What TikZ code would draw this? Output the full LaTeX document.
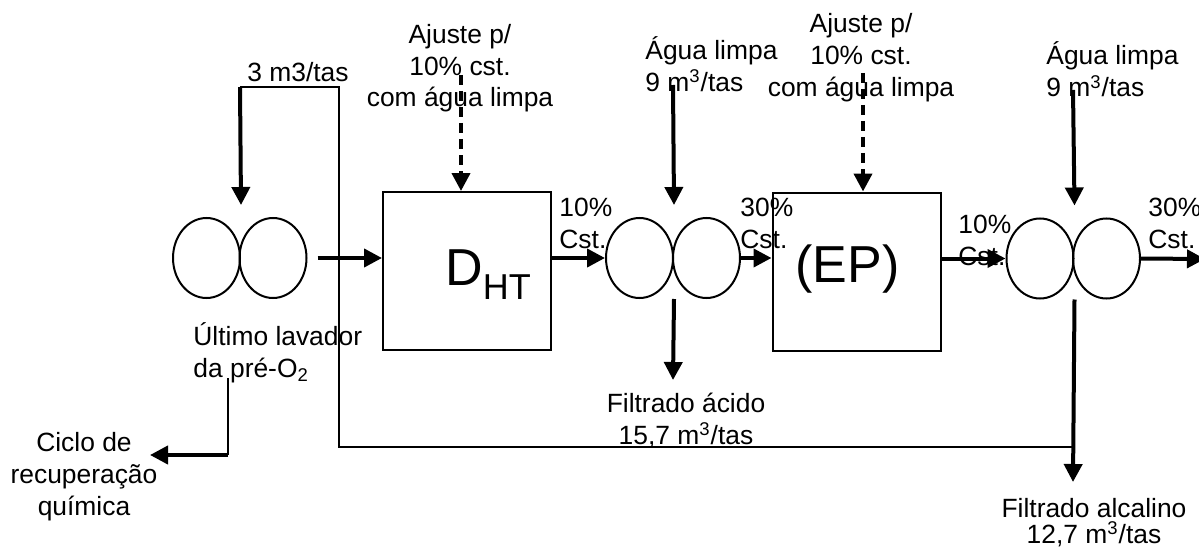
\documentclass[tikz,border=0pt]{standalone}
\usepackage{fontspec}
\setmainfont{Liberation Sans}
\usetikzlibrary{positioning, calc, arrows.meta, shapes.geometric}

\begin{document}
\begin{tikzpicture}[x=0.5pt, y=-0.5pt,
  roll/.style={draw, ellipse, line width=1pt, minimum width=33.5pt, minimum height=40pt, inner sep=0pt},
  unit/.style={draw, line width=1pt, minimum width=84pt, minimum height=79pt, inner sep=0pt},
  flow/.style={-{Triangle[length=9pt, width=9pt]}, line width=2pt},
  adjust/.style={flow, dash pattern=on 5pt off 3pt},
  pipe/.style={line width=1pt},
  lbl/.style={inner sep=0pt, font=\fontsize{13.2}{16}\selectfont},
  big/.style={inner sep=0pt, font=\fontsize{26}{30}\selectfont}]
  \useasboundingbox (0,0) rectangle (1199,551);
  % washers and stages
  \node[roll] (w1a) at (206.5,258) {};
  \node[roll] (w1b) at (273,258) {};
  \node[roll] (w2a) at (639.5,258) {};
  \node[roll] (w2b) at (706.5,258) {};
  \node[roll] (w3a) at (1040,258.5) {};
  \node[roll] (w3b) at (1106.5,258.5) {};
  \node[unit] (dht) at (467,271) {};
  \node[unit] (ep) at (856.5,271.5) {};
  \node[big, anchor=base west] (dhtlbl) at (445,285) {D\raisebox{-7pt}{\fontsize{18}{20}\selectfont HT}};
  \node[big, anchor=base west] (eplbl) at (795,282) {(EP)};

  % texts (base = last line)
  \node[lbl, anchor=base west] (rec) at (247,82) {3 m3/tas};
  \node[lbl, anchor=base, align=center] (adj1) at (460,107) {Ajuste p/\\10\% cst.\\com água limpa};
  \node[lbl, anchor=base, align=center] (adj2) at (861,97) {Ajuste p/\\10\% cst.\\com água limpa};
  \node[lbl, anchor=base west, align=left] (agua1) at (645,91) {Água limpa\\9 m\textsuperscript{3}/tas};
  \node[lbl, anchor=base west, align=left] (agua2) at (1046,97) {Água limpa\\9 m\textsuperscript{3}/tas};
  \node[lbl, anchor=base west, align=left] (cst1) at (559,248) {10\%\\Cst.};
  \node[lbl, anchor=base west, align=left] (cst2) at (740,248) {30\%\\Cst.};
  \node[lbl, anchor=base west, align=left] (cst3) at (958,265) {10\%\\Cst.};
  \node[lbl, anchor=base west, align=left] (cst4) at (1148,248) {30\%\\Cst.};
  \node[lbl, anchor=base west, align=left] (pre) at (193,377) {Último lavador\\da pré-O\textsubscript{2}};
  \node[lbl, anchor=base, align=center] (ciclo) at (84,515) {Ciclo de\\recuperação\\química};
  \node[lbl, anchor=base, align=center] (acido) at (686,444) {Filtrado ácido\\15,7 m\textsuperscript{3}/tas};
  \node[lbl, anchor=base, align=center] (alcal) at (1094,543) {Filtrado alcalino\\[-3pt]12,7 m\textsuperscript{3}/tas};

  % free ends
  \coordinate (recTop) at (240,87);
  \coordinate (recBend) at (339,87);
  \coordinate (recLow) at (339,447);
  \coordinate (recJoin) at (1073,447);
  \coordinate (preTop) at (228,378);
  \coordinate (preBend) at (228,455);
  \coordinate (cicloIn) at (150,455);
  \coordinate (adjIn1) at (461,75);
  \coordinate (adjIn2) at (863,73);
  \coordinate (aguaIn1) at (673,85);
  \coordinate (aguaIn2) at (1073,90);
  \coordinate (acidOut) at (673,380);
  \coordinate (alcalOut) at (1073,482);
  \coordinate (pulpOut) at (1205,259);

  % flows
  \draw[pipe] (recJoin) -- (recLow) -- (recBend) -- (recTop);
  \draw[flow] (recTop) -- ([yshift=6pt]w1a.east |- w1a.north);
  \draw[flow] ([xshift=5pt]w1b.east) -- (w1b.east -| dht.west);
  \draw[adjust] (adjIn1) -- (adjIn1 |- dht.north);
  \draw[flow] (dht.east |- w2a.west) -- (w2a.west);
  \draw[flow] (aguaIn1) -- ([yshift=6pt]w2a.east |- w2a.north);
  \draw[flow] (w2a.east |- w2a.south) -- (acidOut);
  \draw[flow] (w2b.east) -- (w2b.east -| ep.west);
  \draw[adjust] (adjIn2) -- (adjIn2 |- ep.north);
  \draw[flow] (ep.east |- w3a.west) -- (w3a.west);
  \draw[flow] (aguaIn2) -- ([yshift=6pt]w3a.east |- w3a.north);
  \draw[flow] (w3a.east |- w3a.south) -- (alcalOut);
  \draw[flow] (w3b.east) -- (pulpOut);
  \draw[pipe] (preTop) -- (preBend);
  \draw[flow] (preBend) -- (cicloIn);
\end{tikzpicture}
\end{document}
